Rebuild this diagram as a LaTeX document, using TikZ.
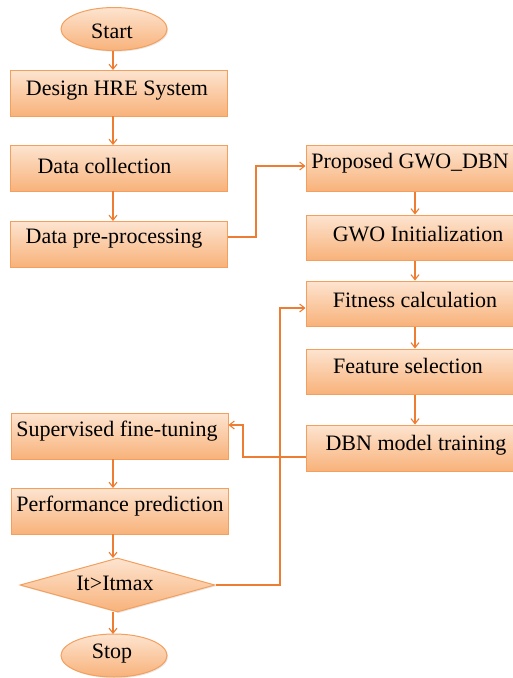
\documentclass[tikz,border=0pt]{standalone}
\usepackage{fontspec}
\setmainfont{Liberation Serif}
\newfontfamily\boxfont{Liberation Serif}
\usetikzlibrary{shapes.geometric,arrows.meta,shadows}
\definecolor{boxedge}{RGB}{243,160,95}
\definecolor{boxtop}{RGB}{253,228,208}
\definecolor{boxbot}{RGB}{248,178,122}
\definecolor{arrowc}{RGB}{236,125,50}
\tikzset{
  flowbox/.style={rectangle, draw=boxedge, line width=1pt, top color=boxtop, bottom color=boxbot,
    inner sep=0pt, drop shadow={opacity=0.18, shadow xshift=1.2pt, shadow yshift=-1.2pt}},
  term/.style={flowbox, ellipse, minimum width=106pt, minimum height=43pt},
  decide/.style={flowbox, diamond, minimum width=195pt, minimum height=54pt},
  lbl/.style={inner sep=0pt, font=\boxfont\fontsize{22}{24}\selectfont, text=black},
  conn/.style={draw=arrowc, line width=1.1pt, -{Straight Barb[length=5pt,width=8pt]}},
}
\begin{document}
\begin{tikzpicture}[x=1pt,y=-1pt]
\useasboundingbox (0,0) rectangle (513,678);
% left column
\node[term] (start) at (114,29) {};
\node[lbl] (tstart) at (112,31) {Start};
\node[flowbox, minimum width=217pt, minimum height=46pt] (design) at (118.5,93) {};
\node[lbl] (tdesign) at (117,91) {Design HRE System};
\node[flowbox, minimum width=217pt, minimum height=46pt] (coll) at (118.5,168) {};
\node[lbl] (tcoll) at (104.5,166) {Data collection};
\node[flowbox, minimum width=217pt, minimum height=46pt] (pre) at (118.5,244) {};
\node[lbl] (tpre) at (114,239) {Data pre-processing};
% right column
\node[flowbox, minimum width=218pt, minimum height=46pt] (prop) at (415,168) {};
\node[lbl] (tprop) at (410,163) {Proposed GWO\_DBN};
\node[flowbox, minimum width=218pt, minimum height=45pt] (init) at (415,237.5) {};
\node[lbl] (tinit) at (418,234) {GWO Initialization};
\node[flowbox, minimum width=218pt, minimum height=45pt] (fit) at (415,303.5) {};
\node[lbl] (tfit) at (415,300) {Fitness calculation};
\node[flowbox, minimum width=218pt, minimum height=45pt] (feat) at (415,371.5) {};
\node[lbl] (tfeat) at (408,366) {Feature selection};
\node[flowbox, minimum width=218pt, minimum height=46pt] (dbn) at (415,448) {};
\node[lbl] (tdbn) at (416,445) {DBN model training};
% lower left
\node[flowbox, minimum width=217pt, minimum height=46pt] (sup) at (119.5,436) {};
\node[lbl] (tsup) at (117,431) {Supervised fine-tuning};
\node[flowbox, minimum width=217pt, minimum height=46pt] (perf) at (119.5,511) {};
\node[lbl] (tperf) at (120,506) {Performance prediction};
\node[decide] (dec) at (117.5,585) {};
\node[lbl] (tdec) at (115,583) {It>Itmax};
\node[term] (stop) at (114,655.5) {};
\node[lbl] (tstop) at (112,654) {Stop};
% connectors
\draw[conn] (113,50.5) -- (113,70);
\draw[conn] (113,116) -- (113,145);
\draw[conn] (113,191) -- (113,221);
\draw[conn] (pre.east |- 0,237) -- (256,237) -- (256,166) -- (prop.west |- 0,166);
\draw[conn] (prop.south) -- (init.north);
\draw[conn] (init.south) -- (fit.north);
\draw[conn] (fit.south) -- (feat.north);
\draw[conn] (feat.south) -- (dbn.north);
\draw[conn] (dbn.west |- 0,457) -- (243,457) -- (243,425) -- (sup.east |- 0,425);
\draw[conn] (113,459) -- (113,488);
\draw[conn] (113,534) -- (113,558);
\draw[conn] (113,612) -- (113,634);
\draw[conn] (dec.east) -- (280,585) -- (280,308) -- (fit.west |- 0,308);
\end{tikzpicture}
\end{document}
